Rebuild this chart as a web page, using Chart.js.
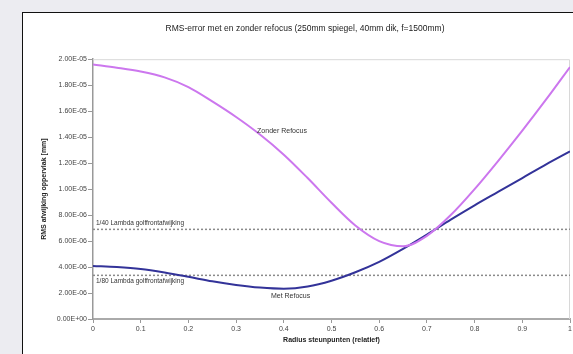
<!DOCTYPE html>
<html>
<head>
<meta charset="utf-8">
<script src="https://cdn.jsdelivr.net/npm/chart.js@4.4.1/dist/chart.umd.min.js"></script>
<style>
  html, body { margin:0; padding:0; width:573px; height:354px; overflow:hidden; background:#ececf1; }
  #box { position:absolute; left:22px; top:12px; width:620px; height:400px; background:#fff; border-left:1px solid #111; border-top:1px solid #111; }
  #wrap { position:absolute; left:0; top:0; width:600px; height:354px; }
</style>
</head>
<body>
<div id="box"></div>
<div id="wrap"><canvas id="c" width="600" height="354"></canvas></div>
<script>
// ---- data ----
const radius = [0, 0.05, 0.1, 0.15, 0.2, 0.25, 0.3, 0.35, 0.4, 0.45, 0.5, 0.55, 0.6, 0.65, 0.7, 0.75, 0.8, 0.85, 0.9, 0.95, 1.0];
const zonderRefocus = [1.96e-5, 1.935e-5, 1.905e-5, 1.86e-5, 1.785e-5, 1.675e-5, 1.555e-5, 1.42e-5, 1.265e-5, 1.085e-5, 8.95e-6, 7.2e-6, 6.0e-6, 5.6e-6, 6.4e-6, 8.0e-6, 1.0e-5, 1.22e-5, 1.45e-5, 1.69e-5, 1.94e-5];
const metRefocus = [4.08e-6, 4.0e-6, 3.85e-6, 3.58e-6, 3.25e-6, 2.9e-6, 2.62e-6, 2.42e-6, 2.33e-6, 2.5e-6, 2.95e-6, 3.6e-6, 4.4e-6, 5.4e-6, 6.5e-6, 7.65e-6, 8.75e-6, 9.8e-6, 1.085e-5, 1.19e-5, 1.29e-5];
const refLineValues = [6.9e-6, 3.36e-6];
const refLineLabels = ['1/40 Lambda golffrontafwijking', '1/80 Lambda golffrontafwijking'];
const seriesNames = ['Zonder Refocus', 'Met Refocus'];
const seriesLabelPos = [[0.344, 1.446e-5], [0.373, 1.77e-6]];
const titleText = 'RMS-error met en zonder refocus (250mm spiegel, 40mm dik, f=1500mm)';
const xTitle = 'Radius steunpunten (relatief)';
const yTitle = 'RMS afwijking oppervlak [mm]';
const yMin = 0, yMax = 2e-5, yStep = 2e-6;
const xMin = 0, xMax = 1, xStep = 0.1;

function fmtExp(v) {
  const s = v.toExponential(2);
  const [m, e] = s.split('e');
  const n = parseInt(e, 10);
  const sign = n < 0 ? '-' : '+';
  return m + 'E' + sign + String(Math.abs(n)).padStart(2, '0');
}

const toXY = (ys) => ys.map((y, i) => ({ x: radius[i], y }));

const datasets = [
  { label: seriesNames[0], data: toXY(zonderRefocus), borderColor: '#cc77ee', borderWidth: 2, cubicInterpolationMode: 'monotone', pointRadius: 0, fill: false },
  { label: seriesNames[1], data: toXY(metRefocus), borderColor: '#333399', borderWidth: 2, cubicInterpolationMode: 'monotone', pointRadius: 0, fill: false }
];
refLineValues.forEach((v, i) => {
  datasets.push({ label: refLineLabels[i], data: [{ x: xMin, y: v }, { x: xMax, y: v }], borderColor: '#8a8a8a', borderWidth: 1.5, borderDash: [2, 2], pointRadius: 0, fill: false, tension: 0 });
});

const framePlugin = {
  id: 'frame',
  beforeDatasetsDraw(chart) {
    const { ctx, chartArea: a } = chart;
    ctx.save();
    ctx.strokeStyle = '#d8d8d8';
    ctx.lineWidth = 1;
    ctx.beginPath();
    ctx.moveTo(a.left, a.top + 0.5);
    ctx.lineTo(a.right - 0.5, a.top + 0.5);
    ctx.lineTo(a.right - 0.5, a.bottom);
    ctx.stroke();
    ctx.restore();
  },
  afterDatasetsDraw(chart) {
    const { ctx, scales: { x, y } } = chart;
    ctx.save();
    ctx.fillStyle = '#333';
    ctx.font = '6.5px "Liberation Sans", Arial, sans-serif';
    ctx.textAlign = 'left';
    ctx.textBaseline = 'middle';
    ctx.fillText(refLineLabels[0], x.getPixelForValue(0) + 3, y.getPixelForValue(refLineValues[0]) - 6);
    ctx.fillText(refLineLabels[1], x.getPixelForValue(0) + 3, y.getPixelForValue(refLineValues[1]) + 5.5);
    ctx.font = '7px "Liberation Sans", Arial, sans-serif';
    seriesNames.forEach((n, i) => {
      ctx.fillText(n, x.getPixelForValue(seriesLabelPos[i][0]), y.getPixelForValue(seriesLabelPos[i][1]));
    });
    ctx.restore();
  }
};

new Chart(document.getElementById('c'), {
  type: 'line',
  data: { datasets },
  plugins: [framePlugin],
  options: {
    responsive: false,
    animation: false,
    layout: { padding: { left: 40, right: 30, top: 0, bottom: 0 } },
    plugins: {
      legend: { display: false },
      tooltip: { enabled: false },
      title: { display: true, text: titleText, color: '#222', font: { family: '"Liberation Sans", Arial, sans-serif', size: 8.5, weight: 'normal' }, padding: { top: 24, bottom: 25 } }
    },
    scales: {
      x: {
        type: 'linear', min: xMin, max: xMax,
        afterFit(s) { s.height = 35; },
        ticks: { stepSize: xStep, color: '#444', padding: 2, maxRotation: 0, font: { family: '"Liberation Sans", Arial, sans-serif', size: 7 }, callback: v => String(Math.round(v * 10) / 10) },
        grid: { display: true, drawOnChartArea: false, drawTicks: true, tickLength: 4, color: '#999' },
        border: { display: true, color: '#aaa', width: 2 },
        title: { display: true, text: xTitle, color: '#222', font: { family: '"Liberation Sans", Arial, sans-serif', size: 7, weight: 'bold' }, padding: { top: 0, bottom: 10 } }
      },
      y: {
        type: 'linear', min: yMin, max: yMax,
        afterFit(s) { s.width = 53; },
        ticks: { stepSize: yStep, color: '#444', padding: 1, font: { family: '"Liberation Sans", Arial, sans-serif', size: 7 }, callback: v => fmtExp(v) },
        grid: { display: true, drawOnChartArea: false, drawTicks: true, tickLength: 5, color: '#999' },
        border: { display: true, color: '#999', width: 1.5 },
        title: { display: true, text: yTitle, color: '#222', font: { family: '"Liberation Sans", Arial, sans-serif', size: 7, weight: 'bold' }, padding: { top: 0, bottom: 0 } }
      }
    }
  }
});
</script>
</body>
</html>
